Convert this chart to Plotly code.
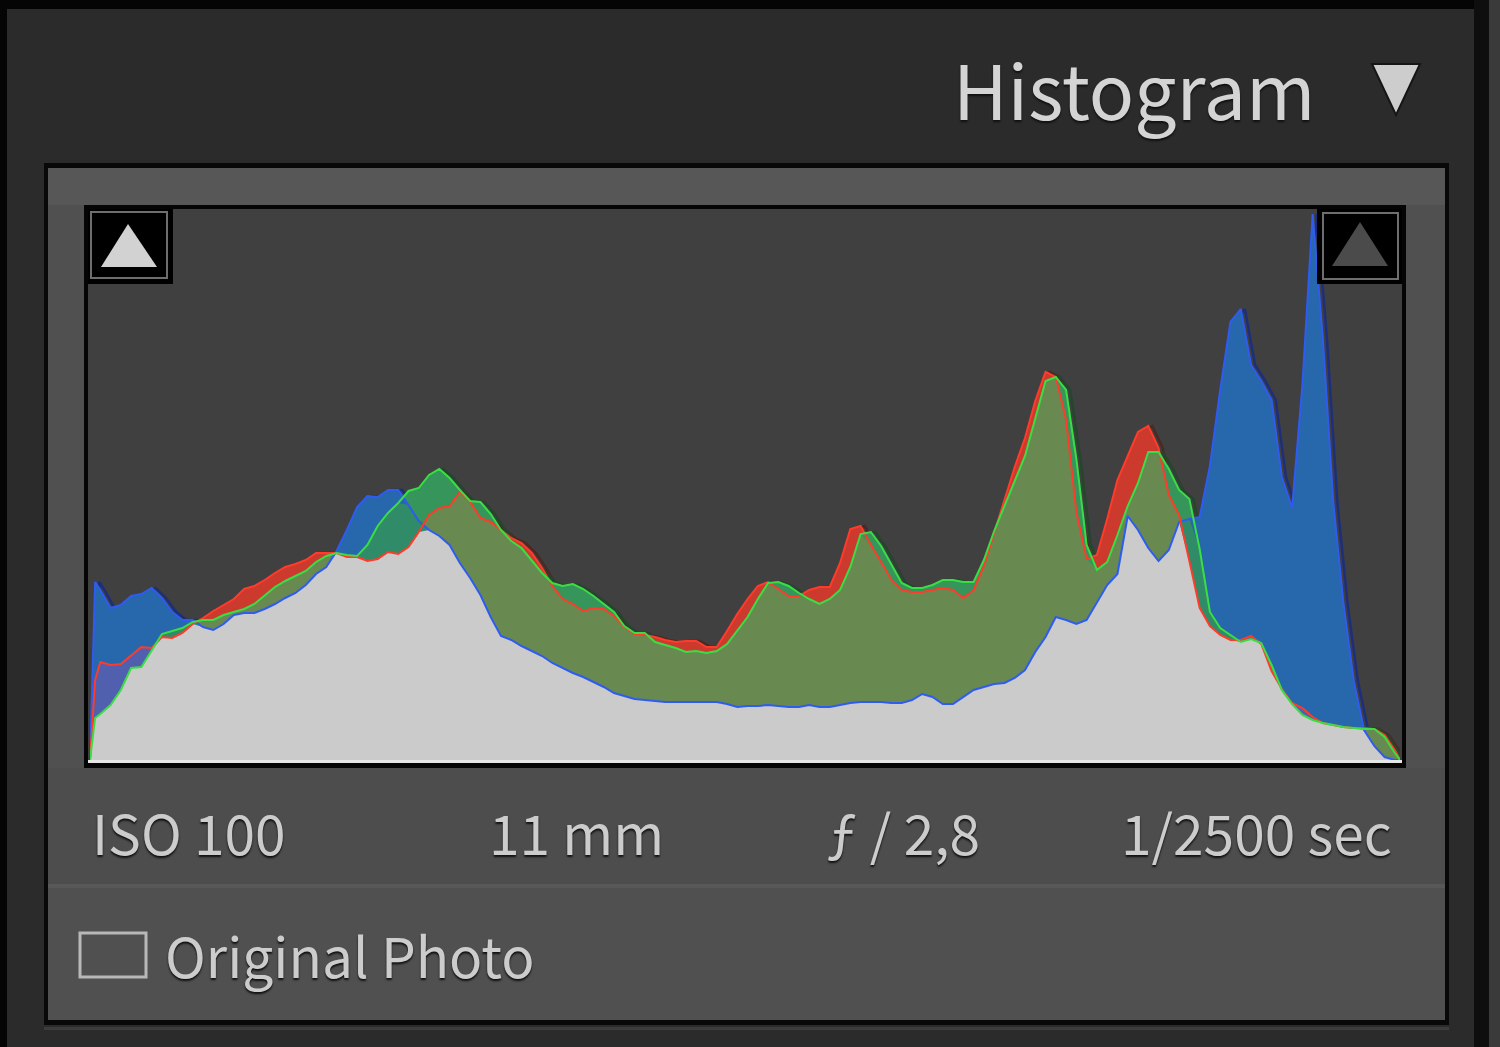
import numpy as np
import plotly.graph_objects as go

W, H = 1500, 1047

# tone levels (0-255) at which the channel heights were read
levels = [0, 1] + list(range(2, 255, 2)) + [255]

red = [0, 80, 98, 95, 96, 105, 113, 112, 123, 122, 127, 136, 142, 149, 155, 161, 171, 174, 180, 187,
       193, 196, 200, 207, 207, 207, 203, 203, 199, 201, 208, 206, 213, 228, 245, 252, 254, 268, 258, 242,
       238, 230, 222, 217, 207, 192, 174, 161, 156, 149, 152, 151, 144, 133, 126, 125, 123, 120, 118, 119,
       119, 113, 113, 129, 146, 161, 174, 178, 171, 164, 164, 170, 173, 173, 197, 231, 234, 215, 198, 180,
       170, 168, 168, 170, 172, 170, 162, 170, 194, 227, 261, 293, 322, 359, 388, 383, 340, 248, 201, 205,
       241, 280, 304, 328, 334, 312, 265, 245, 199, 152, 134, 125, 120, 120, 124, 116, 89, 71, 57, 52,
       43, 37, 35, 33, 32, 32, 31, 25, 10, 0]

green = [0, 42, 46, 55, 70, 92, 93, 110, 126, 129, 132, 138, 140, 140, 145, 148, 151, 156, 165, 173,
         179, 184, 189, 198, 204, 207, 205, 204, 215, 234, 247, 257, 269, 272, 285, 291, 282, 270, 259, 258,
         246, 230, 219, 212, 200, 187, 177, 174, 176, 171, 164, 156, 148, 134, 127, 127, 118, 115, 112, 108,
         109, 107, 109, 116, 129, 143, 161, 177, 178, 174, 167, 161, 156, 161, 170, 193, 226, 228, 214, 195,
         177, 172, 172, 175, 180, 180, 178, 178, 200, 229, 255, 279, 304, 341, 379, 383, 370, 301, 215, 190,
         198, 225, 254, 277, 308, 308, 291, 270, 261, 211, 148, 132, 125, 118, 121, 117, 95, 70, 56, 45,
         40, 37, 35, 33, 32, 31, 31, 23, 7, 0]

blue = [0, 178, 170, 152, 155, 164, 166, 172, 162, 148, 140, 140, 133, 130, 136, 145, 147, 147, 151, 156,
        162, 167, 175, 186, 193, 209, 230, 253, 264, 263, 270, 270, 255, 239, 230, 224, 215, 197, 182, 165,
        143, 124, 120, 114, 109, 104, 97, 92, 87, 83, 78, 73, 67, 64, 61, 60, 59, 58, 58, 58,
        58, 58, 58, 56, 53, 54, 54, 55, 54, 53, 53, 55, 53, 53, 55, 57, 58, 58, 58, 57,
        57, 60, 66, 63, 56, 56, 63, 70, 73, 76, 77, 82, 90, 108, 123, 143, 140, 136, 140, 158,
        175, 186, 244, 230, 212, 199, 210, 238, 241, 243, 294, 370, 438, 451, 395, 379, 360, 283, 252, 375,
        546, 420, 258, 156, 79, 30, 14, 3, 0, 0]

exif = ["ISO 100", "11 mm", "ƒ / 2,8", "1/2500 sec"]
title = "Histogram"
option = "Original Photo"

lv = np.array(levels, dtype=float)
r, g, b = np.array(red), np.array(green), np.array(blue)

fig = go.Figure()

# soft dark edge to the right of each channel curve (hidden wherever a fill covers it)
for vals, col in [(r, "#4a2a24"), (g, "#25452c"), (b, "#1d2f7a")]:
    fig.add_trace(go.Scatter(x=lv + 0.8, y=vals, mode="lines", line=dict(color=col, width=2.5),
                             hoverinfo="skip", showlegend=False))

# painter's order: single channels, then pair overlaps, then the common gray part
layers = [
    (r, "#cb3a2d"), (g, "#35955a"), (b, "#2767ab"),
    (np.minimum(r, g), "#688a51"), (np.minimum(g, b), "#2f8b68"), (np.minimum(r, b), "#5060ae"),
    (np.minimum(np.minimum(r, g), b), "#cbcbcb"),
]
for vals, col in layers:
    fig.add_trace(go.Scatter(x=levels, y=vals, mode="lines", fill="tozeroy", fillcolor=col,
                             line=dict(width=0), hoverinfo="skip", showlegend=False))
for vals, col in [(b, "#2f5cf0"), (r, "#ff3b2b"), (g, "#3ade44")]:
    fig.add_trace(go.Scatter(x=levels, y=vals, mode="lines", line=dict(color=col, width=2),
                             hoverinfo="skip", showlegend=False))


def px(x):
    return x / W


def py(y):
    return 1 - y / H


def rect(x0, y0, x1, y1, fill=None, line=None, lw=0, layer="below"):
    return dict(type="rect", xref="paper", yref="paper", x0=px(x0), x1=px(x1), y0=py(y1), y1=py(y0),
                fillcolor=fill or "rgba(0,0,0,0)", line=dict(color=line or "rgba(0,0,0,0)", width=lw),
                layer=layer)


def tri(pts, fill, line=None, lw=0, layer="above"):
    p = " L ".join(f"{px(x)},{py(y)}" for x, y in pts)
    return dict(type="path", xref="paper", yref="paper", path=f"M {p} Z", fillcolor=fill,
                line=dict(color=line or "rgba(0,0,0,0)", width=lw), layer=layer)


shapes = [
    rect(0, 0, 1500, 9, "#050505"),
    rect(0, 0, 7, 1047, "#050505"),
    rect(1474, 0, 1489, 1047, "#0e0e0e"),
    rect(1489, 0, 1500, 1047, "#3a3a3a"),
    rect(44, 163, 1449, 1025, "#080808"),
    rect(48, 168, 1445, 1020, "#505050"),
    rect(48, 168, 1445, 205, "#575757"),
    rect(48, 768, 1445, 885, "#4d4d4d"),
    rect(48, 884, 1445, 888, "#585858"),
    rect(44, 1027, 1449, 1030, "#3c3c3c"),
    rect(84, 205, 1406, 768, "#050505"),
    rect(88, 209, 1402, 763, "#404040"),
    rect(88, 760, 1402, 763, "#e6e6e6"),
    # clipping indicators
    rect(88, 209, 173, 284, "#000000", layer="above"),
    rect(91, 212, 167, 278, None, "#6e6e6e", 2, layer="above"),
    tri([(128, 224), (101, 267), (157, 267)], "#d2d2d2"),
    rect(1317, 209, 1402, 284, "#000000", layer="above"),
    rect(1323, 213, 1398, 279, None, "#6e6e6e", 2, layer="above"),
    tri([(1360, 222), (1332, 266), (1388, 266)], "#4b4b4b"),
    # panel collapse arrow and checkbox
    tri([(1372, 64), (1420, 64), (1396, 115)], "#cdcdcd", "#151515", 2),
    rect(80, 933, 146, 977, None, "#b8b8b8", 3, layer="above"),
]

font = "Noto Sans CJK SC"
shadow = "0px 2px 2px #111111"
ann = [
    dict(text=title, x=px(1317), y=py(88), xanchor="right", yanchor="middle",
         font=dict(family=font, size=75, color="#d4d4d4", shadow=shadow)),
    dict(text=option, x=px(163), y=py(954), xanchor="left", yanchor="middle",
         font=dict(family=font, size=55, color="#cccccc", shadow=shadow)),
]
for txt, x, anchor in zip(exif, [90, 576, 903, 1394], ["left", "center", "center", "right"]):
    ann.append(dict(text=txt, x=px(x), y=py(831), xanchor=anchor, yanchor="middle",
                    font=dict(family=font, size=55, color="#cccccc", shadow=shadow)))
for a in ann:
    a.update(xref="paper", yref="paper", showarrow=False)

fig.update_layout(
    width=W, height=H, margin=dict(l=0, r=0, t=0, b=0),
    paper_bgcolor="#2b2b2b", plot_bgcolor="rgba(0,0,0,0)",
    shapes=shapes, annotations=ann,
    xaxis=dict(domain=[px(90), px(1400)], range=[0, 255], visible=False, fixedrange=True),
    yaxis=dict(domain=[py(760), py(210)], range=[0, 550], visible=False, fixedrange=True),
)
fig.write_html("out.html", config={"displayModeBar": False},
               post_script="document.body.style.margin='0';document.body.style.overflow='hidden';")
